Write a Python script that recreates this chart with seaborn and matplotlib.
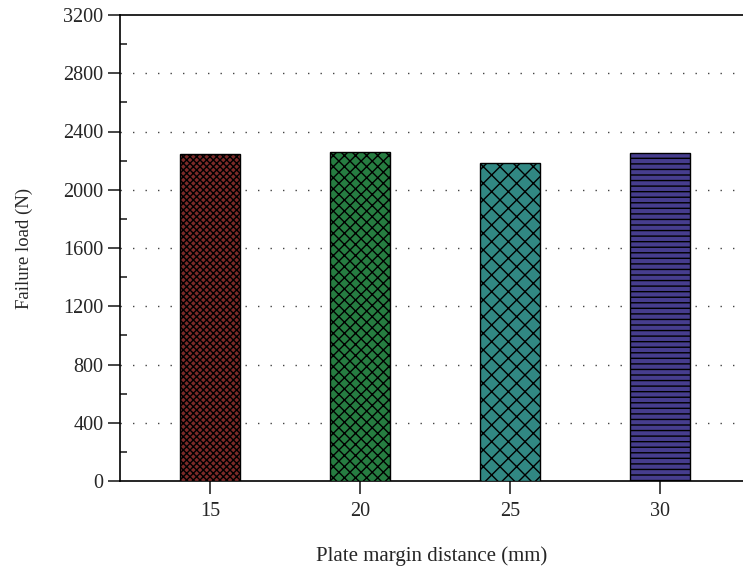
import matplotlib
matplotlib.use("Agg")
import matplotlib.pyplot as plt
import seaborn as sns
import pandas as pd
from matplotlib.ticker import MultipleLocator

categories = ["15", "20", "25", "30"]
failure_load = [2245, 2259, 2184, 2252]
colors = ["#8a1c1a", "#178c3c", "#229690", "#3b2f9c"]
hatches = ["xxxxx", "xxx", "xx", "---"]

sns.set_style("white")
plt.rcParams['font.family'] = ['Liberation Serif', 'DejaVu Serif']
plt.rcParams['hatch.linewidth'] = 1.0
plt.rcParams['hatch.color'] = 'black'

df = pd.DataFrame({"cat": categories, "val": failure_load})

fig = plt.figure(figsize=(7.43, 5.69), dpi=100)
ax = fig.add_axes([120/743, 1-481/569, 1-120/743, (481-15)/569])

sns.barplot(data=df, x="cat", y="val", hue="cat", palette=colors, width=0.4,
            edgecolor="black", linewidth=1, legend=False, ax=ax, zorder=3)
for p, h in zip(ax.patches, hatches):
    p.set_hatch(h)

ax.set_xlim(-0.6, (743-210)/150)
ax.set_ylim(0, 3200)
ax.yaxis.set_major_locator(MultipleLocator(400))
ax.yaxis.set_minor_locator(MultipleLocator(200))
ax.tick_params(axis='y', which='major', direction='out', length=9, width=1.2, left=True, labelsize=14.5, pad=3)
ax.tick_params(axis='y', which='minor', direction='in', length=5, width=1.2, left=True)
ax.tick_params(axis='x', which='major', direction='out', length=9, width=1.2, bottom=True, labelsize=14.5, pad=6)

for y in range(400, 3200, 400):
    ax.axhline(y, color="#444444", linestyle=(0, (1, 8)), linewidth=1, zorder=1)

for s in ["left", "bottom", "top"]:
    ax.spines[s].set_visible(True)
    ax.spines[s].set_color("black")
    ax.spines[s].set_linewidth(1.2)
ax.spines["right"].set_visible(False)

ax.set_xlabel("Plate margin distance (mm)", fontsize=15, labelpad=18)
ax.set_ylabel("Failure load (N)", fontsize=13.5, labelpad=22)

fig.savefig("out.png", dpi=100)
